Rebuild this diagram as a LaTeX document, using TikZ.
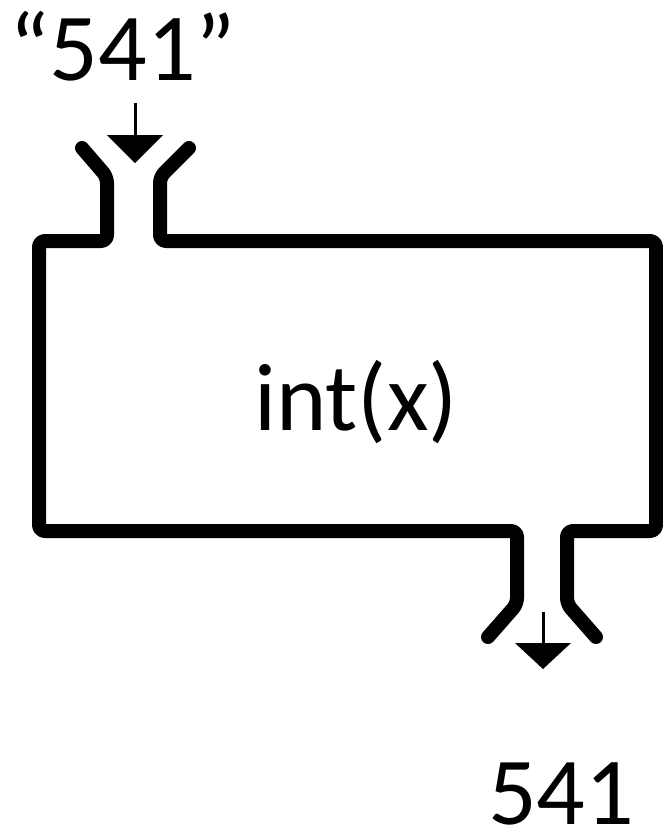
\documentclass[tikz,border=0pt]{standalone}
\usepackage{fontspec}
\setmainfont{Carlito}
\begin{document}
\begin{tikzpicture}[x=1pt,y=-1pt,
  wall/.style={line width=14pt,line cap=round,line join=round,rounded corners=6pt},
  feed/.style={line width=3pt},
  tipfill/.style={fill=black},
  lbl/.style={font=\fontsize{96}{100}\selectfont,inner sep=0pt,anchor=base,text depth=0pt}]
\useasboundingbox (0,0) rectangle (663,833);
% labels
\node[lbl] (inp) at (123,80) {“541”};
\node[lbl] (fn) at (356,430) {int(x)};
\node[lbl] (out) at (561,824) {541};
% outline
\draw[wall] (82,148) -- (107,177) -- (107,241) -- (39,241) -- (39,531) -- (517,531) -- (517,604) -- (488,637);
\draw[wall] (189,148) -- (160,177) -- (160,241) -- (656,241) -- (656,531) -- (567,531) -- (567,604) -- (596,637);
% input arrow
\coordinate (a1) at (135,103);
\coordinate (a2) at (135,137);
\draw[feed] (a1) -- (a2);
\fill[tipfill] (107,135) -- (163,135) -- (135,163) -- cycle;
% output arrow
\coordinate (b1) at (543,612);
\coordinate (b2) at (543,645);
\draw[feed] (b1) -- (b2);
\fill[tipfill] (515,643) -- (571,643) -- (543,669) -- cycle;
\end{tikzpicture}
\end{document}
